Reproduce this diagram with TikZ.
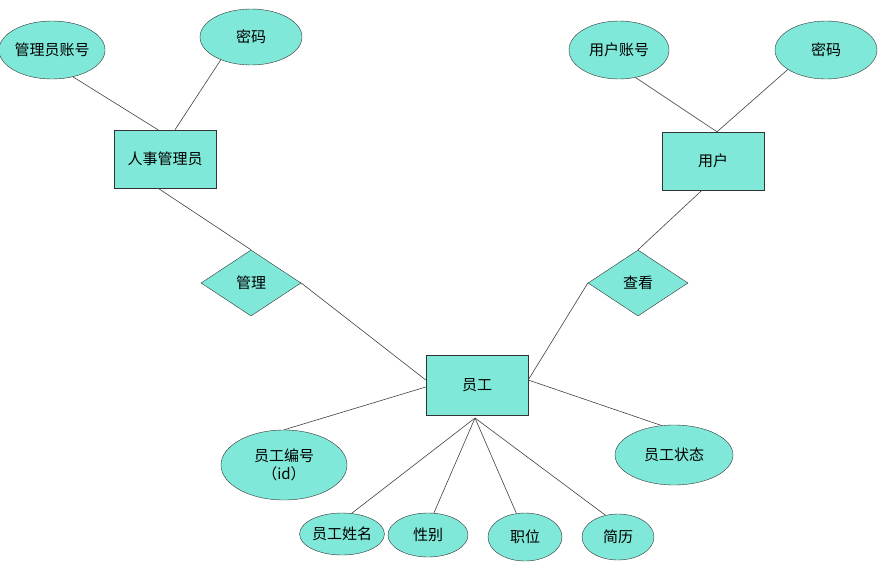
\documentclass[tikz,border=0pt]{standalone}
\usepackage{fontspec}
\setmainfont{Noto Sans CJK SC}
\usetikzlibrary{shapes.geometric}
\definecolor{fillc}{HTML}{80E8D8}
\begin{document}
\begin{tikzpicture}[x=1pt,y=-1pt,
  base/.style={draw=black!80,fill=fillc,inner sep=0pt,font=\fontsize{15}{18}\selectfont,align=center},
  ent/.style={base,rectangle,minimum width=102pt,minimum height=58pt},
  attr/.style={base,ellipse},
  rel/.style={base,diamond,minimum width=100pt,minimum height=66pt,aspect=1.5},
  ln/.style={draw=black!75,line width=0.6pt}]
\useasboundingbox (0,0) rectangle (878,565);
\node[attr,minimum width=100pt,minimum height=58pt] (a1) at (52,50) {管理员账号};
\node[attr,minimum width=102pt,minimum height=56pt] (a2) at (251,37) {密码};
\node[ent] (hr) at (165,159) {人事管理员};
\node[attr,minimum width=100pt,minimum height=58pt] (u1) at (619,50) {用户账号};
\node[attr,minimum width=102pt,minimum height=58pt] (u2) at (826,50) {密码};
\node[ent] (us) at (713,161) {用户};
\node[rel] (gl) at (251,283) {管理};
\node[rel] (ck) at (638,283) {查看};
\node[ent,minimum height=60pt] (yg) at (477,385) {员工};
\node[attr,minimum width=126pt,minimum height=70pt] (e1) at (284,465) {员工编号\\（id）};
\node[attr,minimum width=118pt,minimum height=60pt] (e2) at (674,455) {员工状态};
\node[attr,minimum width=84pt,minimum height=42pt] (e3) at (342,534) {员工姓名};
\node[attr,minimum width=80pt,minimum height=44pt] (e4) at (428,535) {性别};
\node[attr,minimum width=74pt,minimum height=48pt] (e5) at (525,537) {职位};
\node[attr,minimum width=72pt,minimum height=46pt] (e6) at (618,537) {简历};
\coordinate (j) at (475,418);
\draw[ln] (a1.-52) -- ([xshift=-7pt]hr.north);
\draw[ln] (a2.-143) -- ([xshift=10pt]hr.north);
\draw[ln] ([xshift=-7pt]hr.south) -- (gl.north);
\draw[ln] (gl.east) -- ([yshift=5pt]yg.west);
\draw[ln] (u1.-59) -- ([xshift=4pt]us.north);
\draw[ln] (u2.-153) -- ([xshift=4pt]us.north);
\draw[ln] ([xshift=-11pt]us.south) -- (ck.north);
\draw[ln] (ck.west) -- ([yshift=5pt]yg.east);
\draw[ln] ([yshift=-2pt]yg.west) -- (e1.north);
\draw[ln] ([yshift=5pt]yg.east) -- (e2.113);
\draw[ln] (j) -- (e3.65);
\draw[ln] (j) -- (e4.75);
\draw[ln] (j) -- (e5.110);
\draw[ln] (j) -- (e6.120);
\end{tikzpicture}
\end{document}
